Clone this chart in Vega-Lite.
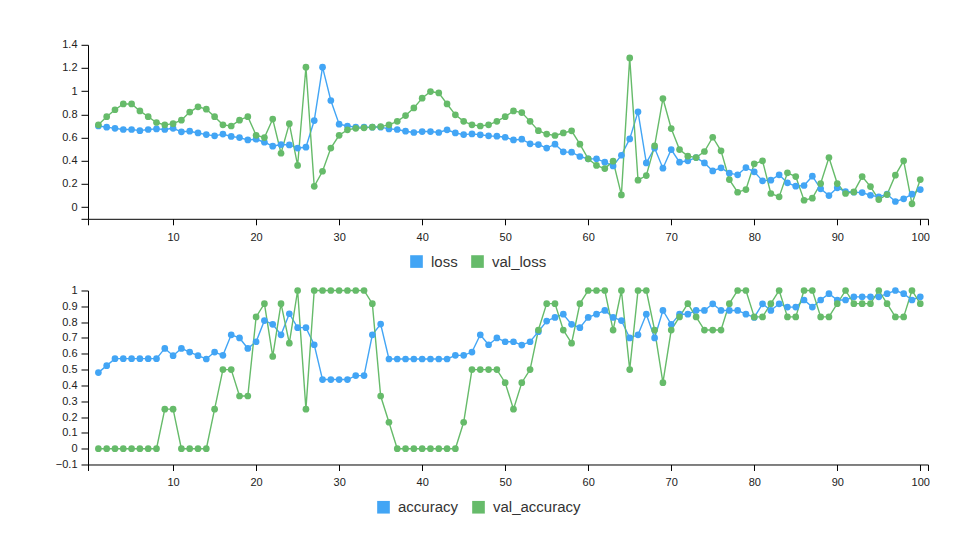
{
  "$schema": "https://vega.github.io/schema/vega-lite/v6.json",
  "background": "white",
  "padding": {"left": 55, "top": 38.8, "right": 0, "bottom": 0},
  "bounds": "flush",
  "spacing": 71.7,
  "resolve": {"scale": {"color": "independent"}, "legend": {"color": "independent"}},
  "config": {
    "view": {"stroke": null},
    "font": "Liberation Sans",
    "axis": {
      "grid": false,
      "domainColor": "#000",
      "tickColor": "#000",
      "labelColor": "#222",
      "labelFont": "Liberation Sans",
      "labelFontSize": 11,
      "title": null
    },
    "axisX": {"tickSize": 6, "labelPadding": 6.5},
    "axisY": {"tickSize": 7, "labelPadding": 4},
    "legend": {
      "direction": "horizontal",
      "title": null,
      "padding": 0,
      "symbolType": "square",
      "symbolSize": 160,
      "symbolStrokeWidth": 0,
      "symbolOpacity": 1,
      "labelFont": "Liberation Sans",
      "labelFontSize": 15,
      "labelColor": "#333",
      "labelOffset": 7,
      "columnPadding": 12
    }
  },
  "vconcat": [
    {
      "width": 840,
      "height": 174,
      "data": {"values": [
        {"epoch":1,"loss":0.70,"val_loss":0.71},{"epoch":2,"loss":0.69,"val_loss":0.78},{"epoch":3,"loss":0.68,"val_loss":0.84},{"epoch":4,"loss":0.67,"val_loss":0.89},{"epoch":5,"loss":0.67,"val_loss":0.89},
        {"epoch":6,"loss":0.66,"val_loss":0.83},{"epoch":7,"loss":0.67,"val_loss":0.78},{"epoch":8,"loss":0.675,"val_loss":0.73},{"epoch":9,"loss":0.67,"val_loss":0.71},{"epoch":10,"loss":0.68,"val_loss":0.72},
        {"epoch":11,"loss":0.65,"val_loss":0.75},{"epoch":12,"loss":0.655,"val_loss":0.82},{"epoch":13,"loss":0.64,"val_loss":0.865},{"epoch":14,"loss":0.626,"val_loss":0.845},{"epoch":15,"loss":0.615,"val_loss":0.78},
        {"epoch":16,"loss":0.63,"val_loss":0.71},{"epoch":17,"loss":0.61,"val_loss":0.70},{"epoch":18,"loss":0.60,"val_loss":0.75},{"epoch":19,"loss":0.58,"val_loss":0.78},{"epoch":20,"loss":0.586,"val_loss":0.62},
        {"epoch":21,"loss":0.56,"val_loss":0.60},{"epoch":22,"loss":0.526,"val_loss":0.76},{"epoch":23,"loss":0.54,"val_loss":0.465},{"epoch":24,"loss":0.537,"val_loss":0.72},{"epoch":25,"loss":0.51,"val_loss":0.36},
        {"epoch":26,"loss":0.517,"val_loss":1.207},{"epoch":27,"loss":0.747,"val_loss":0.18},{"epoch":28,"loss":1.207,"val_loss":0.31},{"epoch":29,"loss":0.92,"val_loss":0.51},{"epoch":30,"loss":0.716,"val_loss":0.62},
        {"epoch":31,"loss":0.70,"val_loss":0.667},{"epoch":32,"loss":0.69,"val_loss":0.68},{"epoch":33,"loss":0.69,"val_loss":0.684},{"epoch":34,"loss":0.69,"val_loss":0.69},{"epoch":35,"loss":0.69,"val_loss":0.695},
        {"epoch":36,"loss":0.675,"val_loss":0.71},{"epoch":37,"loss":0.67,"val_loss":0.74},{"epoch":38,"loss":0.655,"val_loss":0.79},{"epoch":39,"loss":0.644,"val_loss":0.856},{"epoch":40,"loss":0.652,"val_loss":0.94},
        {"epoch":41,"loss":0.652,"val_loss":0.997},{"epoch":42,"loss":0.644,"val_loss":0.985},{"epoch":43,"loss":0.667,"val_loss":0.89},{"epoch":44,"loss":0.64,"val_loss":0.796},{"epoch":45,"loss":0.626,"val_loss":0.74},
        {"epoch":46,"loss":0.632,"val_loss":0.71},{"epoch":47,"loss":0.624,"val_loss":0.70},{"epoch":48,"loss":0.615,"val_loss":0.71},{"epoch":49,"loss":0.612,"val_loss":0.74},{"epoch":50,"loss":0.603,"val_loss":0.78},
        {"epoch":51,"loss":0.58,"val_loss":0.83},{"epoch":52,"loss":0.586,"val_loss":0.816},{"epoch":53,"loss":0.546,"val_loss":0.74},{"epoch":54,"loss":0.54,"val_loss":0.66},{"epoch":55,"loss":0.51,"val_loss":0.63},
        {"epoch":56,"loss":0.543,"val_loss":0.618},{"epoch":57,"loss":0.477,"val_loss":0.64},{"epoch":58,"loss":0.474,"val_loss":0.658},{"epoch":59,"loss":0.437,"val_loss":0.543},{"epoch":60,"loss":0.417,"val_loss":0.417},
        {"epoch":61,"loss":0.417,"val_loss":0.36},{"epoch":62,"loss":0.388,"val_loss":0.333},{"epoch":63,"loss":0.356,"val_loss":0.397},{"epoch":64,"loss":0.448,"val_loss":0.106},{"epoch":65,"loss":0.589,"val_loss":1.287},
        {"epoch":66,"loss":0.822,"val_loss":0.233},{"epoch":67,"loss":0.382,"val_loss":0.273},{"epoch":68,"loss":0.51,"val_loss":0.529},{"epoch":69,"loss":0.336,"val_loss":0.937},{"epoch":70,"loss":0.497,"val_loss":0.678},
        {"epoch":71,"loss":0.388,"val_loss":0.497},{"epoch":72,"loss":0.40,"val_loss":0.44},{"epoch":73,"loss":0.428,"val_loss":0.428},{"epoch":74,"loss":0.382,"val_loss":0.48},{"epoch":75,"loss":0.313,"val_loss":0.603},
        {"epoch":76,"loss":0.339,"val_loss":0.486},{"epoch":77,"loss":0.293,"val_loss":0.238},{"epoch":78,"loss":0.279,"val_loss":0.129},{"epoch":79,"loss":0.342,"val_loss":0.152},{"epoch":80,"loss":0.305,"val_loss":0.374},
        {"epoch":81,"loss":0.227,"val_loss":0.40},{"epoch":82,"loss":0.233,"val_loss":0.118},{"epoch":83,"loss":0.279,"val_loss":0.089},{"epoch":84,"loss":0.21,"val_loss":0.296},{"epoch":85,"loss":0.181,"val_loss":0.264},
        {"epoch":86,"loss":0.187,"val_loss":0.06},{"epoch":87,"loss":0.267,"val_loss":0.078},{"epoch":88,"loss":0.158,"val_loss":0.204},{"epoch":89,"loss":0.10,"val_loss":0.428},{"epoch":90,"loss":0.167,"val_loss":0.204},
        {"epoch":91,"loss":0.135,"val_loss":0.118},{"epoch":92,"loss":0.129,"val_loss":0.132},{"epoch":93,"loss":0.126,"val_loss":0.264},{"epoch":94,"loss":0.103,"val_loss":0.178},{"epoch":95,"loss":0.089,"val_loss":0.066},
        {"epoch":96,"loss":0.112,"val_loss":0.109},{"epoch":97,"loss":0.049,"val_loss":0.276},{"epoch":98,"loss":0.072,"val_loss":0.40},{"epoch":99,"loss":0.112,"val_loss":0.029},{"epoch":100,"loss":0.152,"val_loss":0.238}
      ]},
      "transform": [{"fold": ["loss", "val_loss"], "as": ["series", "value"]}],
      "encoding": {
        "x": {"field": "epoch", "type": "quantitative",
          "scale": {"domain": [-0.25, 100.93], "nice": false, "zero": false},
          "axis": {"values": [-0.25, 10, 20, 30, 40, 50, 60, 70, 80, 90, 100, 100.93],
            "labelExpr": "datum.value < 1 || datum.value > 100.5 ? '' : format(datum.value, 'd')"}},
        "y": {"field": "value", "type": "quantitative",
          "scale": {"domain": [-0.1, 1.4], "nice": false, "zero": false},
          "axis": {"values": [-0.1, 0, 0.2, 0.4, 0.6, 0.8, 1, 1.2, 1.4],
            "labelExpr": "datum.value < -0.05 ? '' : format(datum.value, '~g')"}},
        "color": {"field": "series", "type": "nominal",
          "scale": {"domain": ["loss", "val_loss"], "range": ["#42a5f5", "#66bb6a"]},
          "legend": {"orient": "none", "legendX": 321, "legendY": 209}}
      },
      "layer": [
        {"mark": {"type": "line", "strokeWidth": 1.4}},
        {"mark": {"type": "point", "filled": true, "size": 45, "opacity": 1}}
      ]
    },
    {
      "width": 840,
      "height": 174,
      "data": {"values": [
        {"epoch":1,"accuracy":0.481,"val_accuracy":0},{"epoch":2,"accuracy":0.525,"val_accuracy":0},{"epoch":3,"accuracy":0.569,"val_accuracy":0},{"epoch":4,"accuracy":0.569,"val_accuracy":0},{"epoch":5,"accuracy":0.569,"val_accuracy":0},
        {"epoch":6,"accuracy":0.569,"val_accuracy":0},{"epoch":7,"accuracy":0.569,"val_accuracy":0},{"epoch":8,"accuracy":0.569,"val_accuracy":0},{"epoch":9,"accuracy":0.634,"val_accuracy":0.25},{"epoch":10,"accuracy":0.588,"val_accuracy":0.25},
        {"epoch":11,"accuracy":0.634,"val_accuracy":0},{"epoch":12,"accuracy":0.611,"val_accuracy":0},{"epoch":13,"accuracy":0.588,"val_accuracy":0},{"epoch":14,"accuracy":0.567,"val_accuracy":0},{"epoch":15,"accuracy":0.611,"val_accuracy":0.25},
        {"epoch":16,"accuracy":0.59,"val_accuracy":0.5},{"epoch":17,"accuracy":0.72,"val_accuracy":0.5},{"epoch":18,"accuracy":0.70,"val_accuracy":0.333},{"epoch":19,"accuracy":0.634,"val_accuracy":0.333},{"epoch":20,"accuracy":0.676,"val_accuracy":0.833},
        {"epoch":21,"accuracy":0.81,"val_accuracy":0.917},{"epoch":22,"accuracy":0.786,"val_accuracy":0.583},{"epoch":23,"accuracy":0.72,"val_accuracy":0.917},{"epoch":24,"accuracy":0.853,"val_accuracy":0.667},{"epoch":25,"accuracy":0.765,"val_accuracy":1},
        {"epoch":26,"accuracy":0.765,"val_accuracy":0.25},{"epoch":27,"accuracy":0.657,"val_accuracy":1},{"epoch":28,"accuracy":0.437,"val_accuracy":1},{"epoch":29,"accuracy":0.437,"val_accuracy":1},{"epoch":30,"accuracy":0.437,"val_accuracy":1},
        {"epoch":31,"accuracy":0.437,"val_accuracy":1},{"epoch":32,"accuracy":0.462,"val_accuracy":1},{"epoch":33,"accuracy":0.462,"val_accuracy":1},{"epoch":34,"accuracy":0.72,"val_accuracy":0.917},{"epoch":35,"accuracy":0.788,"val_accuracy":0.333},
        {"epoch":36,"accuracy":0.567,"val_accuracy":0.167},{"epoch":37,"accuracy":0.567,"val_accuracy":0},{"epoch":38,"accuracy":0.567,"val_accuracy":0},{"epoch":39,"accuracy":0.567,"val_accuracy":0},{"epoch":40,"accuracy":0.567,"val_accuracy":0},
        {"epoch":41,"accuracy":0.567,"val_accuracy":0},{"epoch":42,"accuracy":0.567,"val_accuracy":0},{"epoch":43,"accuracy":0.567,"val_accuracy":0},{"epoch":44,"accuracy":0.59,"val_accuracy":0},{"epoch":45,"accuracy":0.59,"val_accuracy":0.167},
        {"epoch":46,"accuracy":0.611,"val_accuracy":0.5},{"epoch":47,"accuracy":0.72,"val_accuracy":0.5},{"epoch":48,"accuracy":0.657,"val_accuracy":0.5},{"epoch":49,"accuracy":0.70,"val_accuracy":0.5},{"epoch":50,"accuracy":0.676,"val_accuracy":0.417},
        {"epoch":51,"accuracy":0.676,"val_accuracy":0.25},{"epoch":52,"accuracy":0.655,"val_accuracy":0.417},{"epoch":53,"accuracy":0.676,"val_accuracy":0.5},{"epoch":54,"accuracy":0.74,"val_accuracy":0.75},{"epoch":55,"accuracy":0.807,"val_accuracy":0.917},
        {"epoch":56,"accuracy":0.83,"val_accuracy":0.917},{"epoch":57,"accuracy":0.85,"val_accuracy":0.75},{"epoch":58,"accuracy":0.786,"val_accuracy":0.667},{"epoch":59,"accuracy":0.765,"val_accuracy":0.917},{"epoch":60,"accuracy":0.83,"val_accuracy":1},
        {"epoch":61,"accuracy":0.85,"val_accuracy":1},{"epoch":62,"accuracy":0.874,"val_accuracy":1},{"epoch":63,"accuracy":0.83,"val_accuracy":0.75},{"epoch":64,"accuracy":0.81,"val_accuracy":1},{"epoch":65,"accuracy":0.70,"val_accuracy":0.5},
        {"epoch":66,"accuracy":0.72,"val_accuracy":1},{"epoch":67,"accuracy":0.85,"val_accuracy":1},{"epoch":68,"accuracy":0.70,"val_accuracy":0.75},{"epoch":69,"accuracy":0.874,"val_accuracy":0.417},{"epoch":70,"accuracy":0.786,"val_accuracy":0.75},
        {"epoch":71,"accuracy":0.85,"val_accuracy":0.833},{"epoch":72,"accuracy":0.85,"val_accuracy":0.917},{"epoch":73,"accuracy":0.874,"val_accuracy":0.833},{"epoch":74,"accuracy":0.874,"val_accuracy":0.75},{"epoch":75,"accuracy":0.916,"val_accuracy":0.75},
        {"epoch":76,"accuracy":0.874,"val_accuracy":0.75},{"epoch":77,"accuracy":0.874,"val_accuracy":0.917},{"epoch":78,"accuracy":0.874,"val_accuracy":1},{"epoch":79,"accuracy":0.85,"val_accuracy":1},{"epoch":80,"accuracy":0.83,"val_accuracy":0.833},
        {"epoch":81,"accuracy":0.916,"val_accuracy":0.833},{"epoch":82,"accuracy":0.874,"val_accuracy":0.917},{"epoch":83,"accuracy":0.916,"val_accuracy":1},{"epoch":84,"accuracy":0.895,"val_accuracy":0.833},{"epoch":85,"accuracy":0.895,"val_accuracy":0.833},
        {"epoch":86,"accuracy":0.94,"val_accuracy":1},{"epoch":87,"accuracy":0.895,"val_accuracy":1},{"epoch":88,"accuracy":0.94,"val_accuracy":0.833},{"epoch":89,"accuracy":0.98,"val_accuracy":0.833},{"epoch":90,"accuracy":0.94,"val_accuracy":0.917},
        {"epoch":91,"accuracy":0.94,"val_accuracy":1},{"epoch":92,"accuracy":0.96,"val_accuracy":0.917},{"epoch":93,"accuracy":0.96,"val_accuracy":0.917},{"epoch":94,"accuracy":0.96,"val_accuracy":0.917},{"epoch":95,"accuracy":0.96,"val_accuracy":1},
        {"epoch":96,"accuracy":0.98,"val_accuracy":0.917},{"epoch":97,"accuracy":1.0,"val_accuracy":0.833},{"epoch":98,"accuracy":0.98,"val_accuracy":0.833},{"epoch":99,"accuracy":0.94,"val_accuracy":1},{"epoch":100,"accuracy":0.96,"val_accuracy":0.917}
      ]},
      "transform": [{"fold": ["accuracy", "val_accuracy"], "as": ["series", "value"]}],
      "encoding": {
        "x": {"field": "epoch", "type": "quantitative",
          "scale": {"domain": [-0.25, 100.93], "nice": false, "zero": false},
          "axis": {"values": [-0.25, 10, 20, 30, 40, 50, 60, 70, 80, 90, 100, 100.93],
            "labelExpr": "datum.value < 1 || datum.value > 100.5 ? '' : format(datum.value, 'd')"}},
        "y": {"field": "value", "type": "quantitative",
          "scale": {"domain": [-0.1, 1], "nice": false, "zero": false},
          "axis": {"values": [-0.1, 0, 0.1, 0.2, 0.3, 0.4, 0.5, 0.6, 0.7, 0.8, 0.9, 1],
            "labelExpr": "replace(format(datum.value, '~g'), '-', '\u2212')"}},
        "color": {"field": "series", "type": "nominal",
          "scale": {"domain": ["accuracy", "val_accuracy"], "range": ["#42a5f5", "#66bb6a"]},
          "legend": {"orient": "none", "legendX": 288, "legendY": 209}}
      },
      "layer": [
        {"mark": {"type": "line", "strokeWidth": 1.4}},
        {"mark": {"type": "point", "filled": true, "size": 45, "opacity": 1}}
      ]
    }
  ]
}
